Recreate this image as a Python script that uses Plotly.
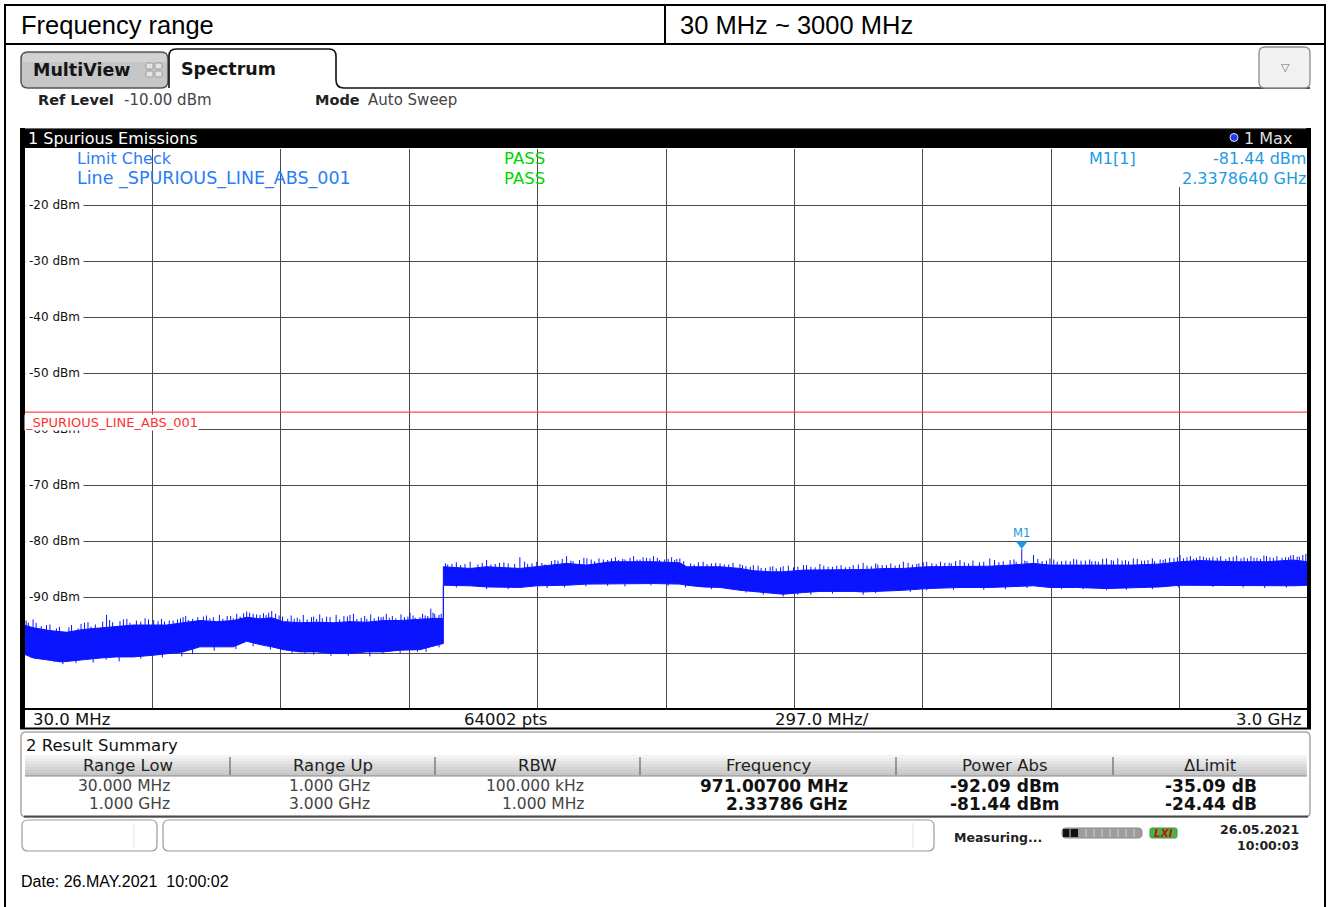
import plotly.graph_objects as go

W, H = 1333, 907

# ------------------------------------------------------------------ data
title_left = "Frequency range"
title_right = "30 MHz ~ 3000 MHz"

start_mhz = 30.0
stop_mhz = 3000.0
span_per_div = 297.0
ref_level = -10.0
y_bottom = -110.0
limit_dbm = -57.0
sweep_points = 64002
limit_line_name = "_SPURIOUS_LINE_ABS_001"

y_tick_vals = [-20, -30, -40, -50, -60, -70, -80, -90]

# trace envelope, range 1 (30 MHz .. 1 GHz)
seg1_freq = [30, 52, 90, 117, 129, 167, 206, 244, 283, 329, 360, 398, 437, 476, 514,
             545, 576, 603, 630, 668, 707, 745, 784, 823, 861, 900, 946, 985, 1000]
seg1_hi = [-95.0, -95.5, -96.0, -96.2, -96.3, -95.8, -95.5, -95.3, -95.0, -95.0, -95.0,
           -94.6, -94.2, -94.4, -94.2, -93.6, -93.9, -93.7, -94.4, -94.6, -94.5, -94.6,
           -94.4, -94.5, -94.2, -94.2, -94.0, -93.8, -93.9]
seg1_lo = [-100.2, -100.9, -101.3, -101.6, -101.4, -101.2, -100.9, -100.7, -100.7, -100.4,
           -100.2, -99.8, -98.9, -98.9, -98.9, -97.9, -98.5, -98.9, -99.4, -99.8, -99.8,
           -100.1, -100.1, -99.8, -99.8, -99.5, -99.4, -98.6, -98.3]

# trace envelope, range 2 (1 GHz .. 3 GHz)
seg2_freq = [1000, 1062, 1100, 1177, 1216, 1285, 1332, 1389, 1440, 1486, 1547, 1563, 1601,
             1640, 1686, 1717, 1756, 1786, 1833, 1871, 1948, 1971, 2025, 2064, 2118, 2195,
             2264, 2311, 2365, 2403, 2465, 2534, 2596, 2658, 2704, 2750, 2827, 2904, 2966, 3000]
seg2_hi = [-84.6, -84.9, -84.6, -84.9, -84.6, -84.0, -84.3, -83.7, -83.7, -83.7, -83.9, -84.6,
           -84.6, -84.6, -84.9, -85.3, -85.5, -85.5, -85.2, -85.2, -85.1, -85.1, -84.9, -84.9,
           -84.6, -84.6, -84.5, -84.3, -84.0, -84.3, -84.3, -84.3, -84.3, -84.1, -83.7, -83.5,
           -83.7, -83.7, -83.4, -83.7]
seg2_lo = [-87.9, -88.0, -88.2, -88.3, -88.0, -87.9, -87.7, -87.6, -87.6, -87.6, -87.7, -87.9,
           -88.2, -88.3, -88.8, -89.0, -89.3, -89.5, -89.2, -89.0, -89.0, -89.1, -88.9, -88.8,
           -88.5, -88.3, -88.3, -88.2, -88.0, -88.3, -88.3, -88.5, -88.3, -88.2, -87.9, -87.9,
           -87.9, -88.0, -88.0, -87.9]

# tall noise peaks above the dense band
spike_up_freq = [51, 90, 140, 170, 221, 260, 318, 340, 398, 420, 460, 514, 545, 560, 576, 603,
                 620, 668, 707, 730, 784, 823, 861, 890, 923, 946, 971, 990,
                 1020, 1062, 1100, 1130, 1177, 1216, 1250, 1285, 1332, 1389, 1420, 1440, 1486,
                 1520, 1547, 1601, 1640, 1686, 1717, 1756, 1786, 1833, 1871, 1910, 1948, 1971,
                 2025, 2064, 2118, 2160, 2195, 2240, 2264, 2311, 2337.864, 2365, 2403, 2440,
                 2465, 2500, 2534, 2570, 2596, 2630, 2658, 2704, 2750, 2790, 2827, 2860, 2904,
                 2940, 2966, 2995]
spike_up_dbm = [-94.0, -94.9, -95.0, -94.6, -93.2, -94.0, -94.0, -94.3, -93.6, -93.9, -93.8,
                -93.8, -92.6, -93.0, -93.2, -92.5, -93.3, -94.0, -93.9, -93.5, -93.2, -93.9,
                -93.5, -93.8, -92.8, -93.6, -92.09, -93.2,
                -84.1, -83.7, -83.4, -83.9, -82.9, -83.7, -83.6, -82.7, -83.1, -83.1, -83.3,
                -82.7, -82.7, -83.2, -83.1, -83.7, -84.0, -84.1, -84.3, -84.6, -84.5, -84.3,
                -84.1, -84.4, -84.3, -83.9, -84.3, -83.7, -83.7, -83.9, -83.4, -83.8, -83.1,
                -83.4, -81.44, -82.5, -83.1, -83.5, -83.3, -83.6, -83.1, -83.5, -83.1, -83.4,
                -83.3, -82.5, -82.7, -83.0, -82.8, -83.1, -82.7, -83.0, -82.5, -82.3]
# medium peaks above the band
small_up_freq = [40, 70, 105, 155, 185, 195, 235, 275, 300, 355, 375, 385, 410, 445, 490, 500,
                 530, 590, 640, 655, 685, 695, 720, 760, 770, 800, 810, 840, 850, 875, 910, 935,
                 958, 980,
                 1010, 1040, 1080, 1120, 1150, 1195, 1235, 1265, 1300, 1315, 1350, 1370, 1405,
                 1455, 1470, 1500, 1535, 1580, 1620, 1660, 1700, 1735, 1770, 1810, 1850, 1890,
                 1930, 1990, 2005, 2045, 2085, 2100, 2140, 2175, 2215, 2285, 2325, 2350, 2385,
                 2420, 2450, 2485, 2515, 2550, 2585, 2615, 2645, 2670, 2690, 2720, 2735, 2765,
                 2780, 2810, 2845, 2875, 2890, 2920, 2955, 2980]
small_up_dbm = [-94.6, -95.2, -95.6, -95.6, -95.3, -94.9, -94.5, -94.6, -94.4, -94.4, -94.2,
                -94.0, -94.1, -93.5, -93.9, -93.4, -93.5, -93.2, -93.9, -93.9, -94.0, -93.6,
                -93.8, -94.0, -93.4, -93.9, -93.7, -93.8, -93.5, -93.7, -93.6, -93.7, -93.3,
                -93.0,
                -84.2, -84.3, -84.2, -84.1, -84.0, -84.1, -84.2, -83.5, -83.6, -83.4, -83.6,
                -83.3, -83.4, -83.3, -83.0, -83.4, -83.4, -84.2, -84.0, -84.2, -84.5, -84.8,
                -84.9, -84.7, -84.6, -84.6, -84.7, -84.5, -84.2, -84.4, -84.2, -84.0, -84.1,
                -84.0, -84.0, -83.8, -83.7, -83.6, -83.6, -83.7, -83.6, -83.5, -83.7, -83.5,
                -83.6, -83.5, -83.6, -83.2, -83.1, -82.9, -83.2, -83.0, -82.8, -83.2, -83.1,
                -83.0, -83.2, -83.0, -82.9, -82.8]
# fine peaks above the band
fine_up_freq = [35, 58, 82, 112, 134, 162, 178, 212, 228, 252, 268, 290, 310, 330, 348, 366,
                392, 404, 432, 452, 468, 482, 508, 522, 538, 552, 568, 584, 596, 612, 628, 648,
                662, 676, 700, 714, 738, 752, 778, 792, 818, 832, 856, 868, 882, 902, 918, 930,
                952, 964, 976, 995,
                1005, 1030, 1050, 1090, 1110, 1140, 1165, 1188, 1205, 1228,
                1258, 1275, 1295, 1325, 1342, 1360, 1380, 1398, 1415, 1432,
                1448, 1462, 1478, 1495, 1512, 1528, 1540, 1556, 1572, 1590,
                1610, 1630, 1650, 1670, 1692, 1710, 1728, 1745, 1762, 1780,
                1798, 1820, 1840, 1860, 1880, 1900, 1920, 1940, 1960, 1980,
                2000, 2015, 2035, 2055, 2075, 2095, 2110, 2130, 2150, 2170,
                2185, 2205, 2225, 2250, 2275, 2295, 2320, 2345, 2375, 2395,
                2412, 2430, 2458, 2475, 2495, 2508, 2525, 2545, 2560, 2578,
                2605, 2622, 2640, 2665, 2680, 2698, 2712, 2728, 2742, 2758,
                2772, 2798, 2818, 2835, 2852, 2868, 2882, 2898, 2912, 2928,
                2948, 2960, 2975, 2988]
fine_up_dbm = [-94.2, -94.6, -95.0, -95.3, -95.4, -94.8, -94.5, -94.4, -94.1, -94.3, -93.9,
               -94.2, -93.8, -94.1, -93.9, -94.2, -93.8, -93.4, -93.6, -93.3, -93.6, -93.2,
               -93.4, -93.0, -92.9, -92.8, -93.1, -92.9, -92.8, -93.0, -93.5, -93.3, -93.7,
               -93.2, -93.5, -93.1, -93.6, -93.2, -93.5, -93.0, -93.4, -93.1, -93.6, -93.0,
               -93.4, -93.1, -93.5, -93.3, -93.0, -93.4, -92.8, -93.0,
               -84.0, -83.8, -84.1, -83.9, -84.2, -83.8, -84.1, -83.7, -84.0, -83.9,
               -83.4, -83.2, -83.5, -83.0, -83.3, -83.1, -83.4, -82.9, -83.2, -83.0,
               -83.3, -82.9, -83.1, -83.0, -83.3, -82.9, -83.2, -83.6, -84.0, -83.8,
               -84.1, -83.9, -84.2, -83.9, -84.3, -84.6, -84.4, -84.8, -84.5, -84.7,
               -84.4, -84.6, -84.3, -84.7, -84.4, -84.6, -84.3, -84.6, -84.2, -84.4,
               -84.0, -84.3, -84.0, -84.2, -83.9, -84.1, -83.8, -84.0, -83.7, -83.9,
               -83.6, -83.8, -83.5, -83.7, -83.4, -83.6, -83.3, -83.5, -83.2, -83.5,
               -83.3, -83.6, -83.2, -83.5, -83.3, -83.6, -83.2, -83.4, -83.1, -83.4,
               -83.2, -83.5, -83.1, -83.4, -83.0, -82.9, -83.1, -82.7, -83.0, -82.8,
               -83.0, -82.7, -82.9, -82.6, -82.9, -82.7, -83.0, -82.6, -82.9, -82.7,
               -82.9, -82.6, -82.8, -82.5]
# dips below the band
spike_dn_freq = [45, 75, 100, 120, 150, 190, 220, 250, 300, 350, 395, 420, 470, 520, 560, 600,
                 650, 680, 700, 740, 780, 830, 860, 900, 940, 960, 990,
                 1030, 1100, 1150, 1240, 1280, 1330, 1380, 1420, 1480, 1520, 1560, 1620, 1700,
                 1740, 1786, 1820, 1850, 1900, 1971, 2000, 2080, 2118, 2180, 2250, 2300, 2350,
                 2430, 2480, 2534, 2580, 2640, 2700, 2780, 2850, 2900, 2950]
spike_dn_dbm = [-100.8, -101.0, -101.6, -102.0, -101.8, -101.7, -101.2, -101.5, -101.0, -100.8,
                -100.6, -100.2, -99.6, -99.3, -98.8, -99.4, -100.0, -100.2, -100.3, -100.5,
                -100.5, -100.6, -100.2, -100.0, -99.8, -99.8, -99.0,
                -88.3, -88.6, -88.6, -88.4, -88.3, -88.1, -88.0, -88.1, -87.9, -88.0, -88.3,
                -88.6, -89.2, -89.6, -89.9, -89.6, -89.6, -89.4, -89.6, -89.3, -89.1, -88.8,
                -88.7, -88.7, -88.6, -88.4, -88.6, -88.6, -88.8, -88.7, -88.6, -88.3, -88.2,
                -88.3, -88.4, -88.3]

m1_freq_mhz = 2337.864
m1_level = -81.44

summary_headers = ["Range Low", "Range Up", "RBW", "Frequency", "Power Abs", "ΔLimit"]
col_range_low = ["30.000 MHz", "1.000 GHz"]
col_range_up = ["1.000 GHz", "3.000 GHz"]
col_rbw = ["100.000 kHz", "1.000 MHz"]
col_frequency = ["971.00700 MHz", "2.33786 GHz"]
col_power = ["-92.09 dBm", "-81.44 dBm"]
col_delta = ["-35.09 dB", "-24.44 dB"]

status_date = "26.05.2021"
status_time = "10:00:03"
footer_date = "Date: 26.MAY.2021\u00a0 10:00:02"

# ------------------------------------------------------------------ style
TRACE = "#0a14ff"
GRID = "#4a4a4a"
LIMIT = "#ff4a4a"
BLUE_TXT = "#2b7cf7"
MK = "#1d9ae4"
FONT = "DejaVu Sans"
ARIAL = "Liberation Sans"


def X(x):
    return x / W


def Y(y):
    return 1 - y / H


def P(x, y):
    return f"{X(x):.6f},{Y(y):.6f}"


shapes = []
annotations = []


def rect(x0, y0, x1, y1, fill, lc=None, lw=0):
    shapes.append(dict(type="rect", xref="paper", yref="paper", x0=X(x0), x1=X(x1),
                       y0=Y(y1), y1=Y(y0), fillcolor=fill,
                       line=dict(color=lc or fill, width=lw), layer="above"))


def line(x0, y0, x1, y1, color, w=1):
    shapes.append(dict(type="line", xref="paper", yref="paper", x0=X(x0), x1=X(x1),
                       y0=Y(y0), y1=Y(y1), line=dict(color=color, width=w), layer="above"))


def path(p, fill, lc, lw):
    shapes.append(dict(type="path", xref="paper", yref="paper", path=p, fillcolor=fill,
                       line=dict(color=lc, width=lw), layer="above"))


def rrect(x0, y0, x1, y1, r):
    return (f"M {P(x0 + r, y0)} L {P(x1 - r, y0)} Q {P(x1, y0)} {P(x1, y0 + r)} "
            f"L {P(x1, y1 - r)} Q {P(x1, y1)} {P(x1 - r, y1)} L {P(x0 + r, y1)} "
            f"Q {P(x0, y1)} {P(x0, y1 - r)} L {P(x0, y0 + r)} Q {P(x0, y0)} {P(x0 + r, y0)} Z")


def ann(x, y, text, size=16, color="#000", family=FONT, xa="left", ya="middle",
        bold=False, bg=None, pad=1, **kw):
    d = dict(x=X(x), y=Y(y), xref="paper", yref="paper",
             text=f"<b>{text}</b>" if bold else text, showarrow=False,
             xanchor=xa, yanchor=ya, borderpad=pad,
             font=dict(size=size, color=color, family=family))
    if bg:
        d["bgcolor"] = bg
    d.update(kw)
    annotations.append(d)


# ------------------------------------------------------------------ figure / traces
fig = go.Figure()

band_x = seg1_freq + seg2_freq + seg2_freq[::-1] + seg1_freq[::-1]
band_y = seg1_hi + seg2_hi + seg2_lo[::-1] + seg1_lo[::-1]
fig.add_trace(go.Scatter(x=band_x, y=band_y, mode="lines", fill="toself", fillcolor=TRACE,
                         line=dict(color=TRACE, width=1), hoverinfo="skip", showlegend=False))

sx, sy = [], []
for freqs, levels, depth in [(spike_up_freq, spike_up_dbm, -2.8),
                             (small_up_freq, small_up_dbm, -2.0),
                             (fine_up_freq, fine_up_dbm, -1.8),
                             (spike_dn_freq, spike_dn_dbm, 2.5)]:
    for f, v in zip(freqs, levels):
        sx += [f, f, None]
        sy += [v, v + depth, None]
fig.add_trace(go.Scatter(x=sx, y=sy, mode="lines", line=dict(color=TRACE, width=1),
                         hoverinfo="skip", showlegend=False))

fig.add_trace(go.Scatter(x=[start_mhz, stop_mhz], y=[limit_dbm, limit_dbm], mode="lines",
                         line=dict(color=LIMIT, width=1.2), hoverinfo="skip", showlegend=False))

fig.add_trace(go.Scatter(x=[m1_freq_mhz], y=[m1_level], mode="markers",
                         marker=dict(symbol="triangle-up", angle=180, size=10, color=MK,
                                     standoff=5, line=dict(width=0)),
                         hoverinfo="skip", showlegend=False))
annotations.append(dict(x=m1_freq_mhz, y=m1_level, xref="x", yref="y", text="M1",
                        showarrow=False, xanchor="center", yanchor="bottom", yshift=7,
                        font=dict(size=11.5, color=MK, family=FONT)))

# ------------------------------------------------------------------ page frame
line(4, 5, 1326, 5, "#000", 2)
line(4, 44, 1326, 44, "#000", 2)
line(5, 4, 5, 907, "#000", 2)
line(1325, 4, 1325, 907, "#000", 2)
line(665, 5, 665, 44, "#000", 2)
ann(19, 25, title_left, 25.5, "#000", ARIAL)
ann(678, 25, title_right, 25.5, "#000", ARIAL)

# tabs
path(rrect(21, 52, 168, 88, 7), "#c6c6c6", "#555555", 1.5)
rect(23, 54, 166, 62, "#d2d2d2")
path(f"M {P(169, 88)} L {P(169, 56)} Q {P(169, 49)} {P(176, 49)} L {P(329, 49)} "
     f"Q {P(336, 49)} {P(336, 56)} L {P(336, 80)} Q {P(336, 88)} {P(344, 88)} L {P(1310, 88)}",
     "rgba(0,0,0,0)", "#111111", 1.6)
for gx, gy in [(146, 63), (155, 63), (146, 71), (155, 71)]:
    path(rrect(gx, gy, gx + 7, gy + 6, 1.5), "#e4e4e4", "#9a9a9a", 1)
ann(31, 70, "MultiView", 17.5, "#151515", bold=True)
ann(179, 69, "Spectrum", 17.5, "#151515", bold=True)
path(rrect(1259, 47, 1310, 88, 6), "#f1f1f1", "#8c8c8c", 1.3)
ann(1285, 68, "▽", 11, "#777777", xa="center")

# ref level row
ann(36, 100, "Ref Level", 14.5, "#222", bold=True)
ann(122, 100, f"{ref_level:.2f} dBm", 15, "#444")
ann(313, 100, "Mode", 14.5, "#222", bold=True)
ann(366, 100, "Auto Sweep", 15, "#444")

# plot window header
path(f"M {P(20, 148)} L {P(20, 133)} Q {P(20, 128)} {P(25, 128)} L {P(1306, 128)} "
     f"Q {P(1311, 128)} {P(1311, 133)} L {P(1311, 148)} Z", "#000000", "#000000", 0)
line(24, 128.6, 1306, 128.6, "#777777", 1)
ann(26, 138, "1 Spurious Emissions", 16, "#ffffff")
shapes.append(dict(type="circle", xref="paper", yref="paper", x0=X(1230), x1=X(1238),
                   y0=Y(141.5), y1=Y(133.5), fillcolor="#1a3cff",
                   line=dict(color="#e8e8e8", width=1), layer="above"))
ann(1242, 138, "1 Max", 16, "#dddddd")

# plot borders
rect(20, 128, 25, 729, "#000")
rect(1307, 128, 1311, 729, "#000")
line(22, 709, 1310, 709, "#000", 2)
line(20, 728.5, 1311, 728.5, "#000", 2)
rect(1172, 149, 1306.5, 187, "#ffffff")

# plot texts
ann(75, 158, "Limit Check", 16, BLUE_TXT)
ann(75, 178, "Line " + limit_line_name, 17.5, BLUE_TXT)
ann(502, 158, "PASS", 16.5, "#00d600")
ann(502, 178, "PASS", 16.5, "#00d600")
ann(1087, 158, "M1[1]", 16, MK)
ann(1307, 158, f"{m1_level:.2f} dBm", 16, MK, xa="right", pad=0)
ann(1307, 178, f"{m1_freq_mhz / 1000:.7f} GHz", 16, MK, xa="right", pad=0)

for v in y_tick_vals:
    annotations.append(dict(x=X(25), y=v, xref="paper", yref="y", text=f"{v} dBm",
                            showarrow=False, xanchor="left", yanchor="middle",
                            bgcolor="#ffffff", borderpad=3,
                            font=dict(size=12, color="#111", family=FONT)))
annotations.append(dict(x=X(24), y=limit_dbm, xref="paper", yref="y", text=limit_line_name,
                        showarrow=False, xanchor="left", yanchor="top", yshift=-1.5,
                        bgcolor="#ffffff", borderpad=0,
                        font=dict(size=13, color="#ff3030", family=FONT)))

# x-axis info row
ann(31, 719, f"{start_mhz:.1f} MHz", 16.5, "#111")
ann(505, 719, f"{sweep_points} pts", 16.5, "#111", xa="center")
ann(822, 719, f"{span_per_div:.1f} MHz/", 16.5, "#111", xa="center")
ann(1303, 719, f"{stop_mhz / 1000:.1f} GHz", 16.5, "#111", xa="right")

# ------------------------------------------------------------------ result summary
path(rrect(21, 732, 1310, 817, 5), "#ffffff", "#a8a8a8", 1.5)
line(24, 816.5, 1308, 816.5, "#4a4a4a", 2)
ann(24, 745, "2 Result Summary", 16.5, "#111")
grad = ["#f4f4f4", "#ececec", "#e4e4e4", "#dcdcdc", "#d4d4d4", "#cdcdcd", "#c6c6c6"]
for i, c in enumerate(grad):
    rect(25, 755 + i * 3, 1307, 758 + i * 3, c)
line(25, 776, 1307, 776, "#8a8a8a", 1)
col_edges = [25, 230, 435, 640, 896, 1113, 1307]
for xe in col_edges[1:-1]:
    line(xe, 757, xe, 775, "#666666", 1.2)
for i, hname in enumerate(summary_headers):
    ann((col_edges[i] + col_edges[i + 1]) / 2, 765, hname, 16.5, "#222", xa="center")

col_right = [171, 371, 585, 849, 1061, 1258]
columns = [col_range_low, col_range_up, col_rbw, col_frequency, col_power, col_delta]
row_y = [786, 804]
for ci, (xr, col) in enumerate(zip(col_right, columns)):
    for ri, val in enumerate(col):
        if ci >= 3:
            ann(xr, row_y[ri] - 0.5, val, 17, "#111", xa="right", bold=True, pad=0)
        else:
            ann(xr, row_y[ri], val, 15.5, "#444", xa="right", pad=0)

# ------------------------------------------------------------------ status bar
path(rrect(22, 820, 157, 851, 6), "#ffffff", "#9a9a9a", 1.2)
line(134, 823, 134, 848, "#e2e2e2", 1)
path(rrect(163, 820, 934, 851, 6), "#ffffff", "#9a9a9a", 1.2)
line(913, 823, 913, 848, "#e2e2e2", 1)
ann(952, 837, "Measuring...", 12.5, "#222", bold=True)
path(rrect(1062, 828, 1142, 838, 4), "#9c9c9c", "#8a8a8a", 1)
rect(1063, 829, 1078, 837, "#111111")
for sxp in [1070, 1086, 1094, 1102, 1110, 1118, 1126, 1134]:
    line(sxp, 829, sxp, 837, "#cfcfcf", 1)
path(rrect(1150, 828, 1177, 838, 2), "#49b449", "#3a9a3a", 1)
ann(1163.5, 833, "<i>LXI</i>", 10.5, "#cc1010", xa="center", bold=True, pad=0)
ann(1300, 829, status_date, 12.5, "#222", xa="right", bold=True, pad=0)
ann(1300, 845, status_time, 12.5, "#222", xa="right", bold=True, pad=0)

ann(19, 881, footer_date, 16, "#000", ARIAL)

# ------------------------------------------------------------------ layout
fig.update_layout(
    width=W, height=H, autosize=False,
    margin=dict(l=0, r=0, t=0, b=0, pad=0),
    paper_bgcolor="#ffffff", plot_bgcolor="#ffffff",
    showlegend=False,
    xaxis=dict(domain=[24 / W, 1308 / W], range=[start_mhz, stop_mhz], tick0=start_mhz,
               dtick=span_per_div, showgrid=True, gridcolor=GRID, gridwidth=1,
               zeroline=False, showticklabels=False, ticks="", showline=False,
               fixedrange=True),
    yaxis=dict(domain=[1 - 709 / H, 1 - 149 / H], range=[y_bottom, ref_level], tick0=0,
               dtick=10, showgrid=True, gridcolor=GRID, gridwidth=1, zeroline=False,
               showticklabels=False, ticks="", showline=False, fixedrange=True),
    shapes=shapes,
    annotations=annotations,
)

fig.write_html("out.html", config={"displayModeBar": False})
